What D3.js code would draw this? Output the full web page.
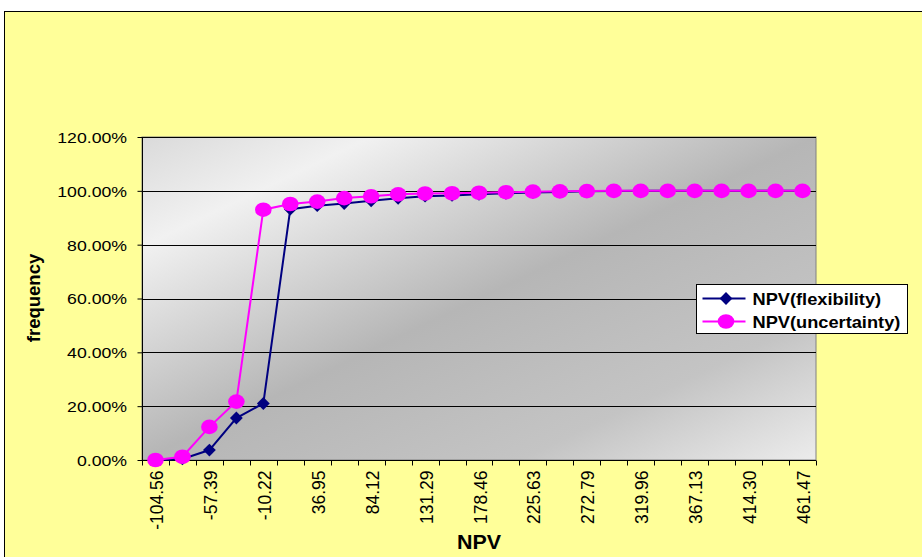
<!DOCTYPE html>
<html>
<head>
<meta charset="utf-8">
<script src="https://cdn.jsdelivr.net/npm/d3@7/dist/d3.min.js"></script>
<style>
  html, body { margin: 0; padding: 0; background: #ffffff; }
  svg { display: block; }
  text { font-family: "Liberation Sans", Arial, sans-serif; fill: #000; }
</style>
</head>
<body>
<svg id="chart" width="922" height="557"></svg>
<script>
// NPV bin upper bounds (category labels)
const categories = ["-104.56", "-80.98", "-57.39", "-33.81", "-10.22", "13.37", "36.95", "60.54",
  "84.12", "107.71", "131.29", "154.88", "178.46", "202.05", "225.63", "249.21", "272.79",
  "296.38", "319.96", "343.55", "367.13", "390.71", "414.30", "437.88", "461.47"];

// Cumulative frequency (%) per bin
const flexibility = [0, 0.4, 3.7, 15.6, 21.0, 93.2, 94.5, 95.3, 96.3, 97.2, 98.0, 98.3, 98.7,
  99.1, 99.4, 99.6, 99.8, 99.9, 100, 100, 100, 100, 100, 100, 100];
const uncertainty = [0, 1.2, 12.3, 21.7, 93.0, 95.1, 96.0, 97.3, 98.0, 98.7, 99.0, 99.1, 99.3,
  99.5, 99.7, 99.8, 99.9, 100, 100, 100, 100, 100, 100, 100, 100];

const yTicks = [0, 20, 40, 60, 80, 100, 120];
const seriesNames = ["NPV(flexibility)", "NPV(uncertainty)"];

const svg = d3.select("#chart");
const WIDE = 1.14; // horizontal widening applied to upright labels

// chart area background and frame
svg.append("rect")
  .attr("x", 4.5).attr("y", 11.5).attr("width", 930).attr("height", 560)
  .attr("fill", "#ffff99").attr("stroke", "#000").attr("stroke-width", 1);

const plot = { left: 142, top: 137, right: 816, bottom: 460 };

const defs = svg.append("defs");
const grad = defs.append("linearGradient")
  .attr("id", "plotGrad")
  .attr("x1", 0).attr("y1", 0).attr("x2", 1).attr("y2", 1);
[[0, "#dadada"], [0.17, "#f1f1f1"], [0.5, "#b6b6b6"], [0.78, "#c4c4c4"], [1, "#ececec"]]
  .forEach(([o, c]) => grad.append("stop").attr("offset", o).attr("stop-color", c));

const x = d3.scaleBand()
  .domain(categories)
  .range([plot.left, plot.right])
  .paddingInner(0).paddingOuter(0);

const y = d3.scaleLinear()
  .domain([0, 120])
  .range([plot.bottom, plot.top]);

// plot area
svg.append("rect")
  .attr("x", plot.left).attr("y", plot.top)
  .attr("width", plot.right - plot.left).attr("height", plot.bottom - plot.top)
  .attr("fill", "url(#plotGrad)")
  .attr("stroke", "#808080").attr("stroke-width", 1);

// horizontal gridlines
svg.append("g")
  .selectAll("line")
  .data(yTicks.filter(d => d > 0))
  .join("line")
  .attr("x1", plot.left).attr("x2", plot.right)
  .attr("y1", d => Math.round(y(d)) + 0.5).attr("y2", d => Math.round(y(d)) + 0.5)
  .attr("stroke", "#000").attr("stroke-width", 1);

// y axis (line + ticks from the axis generator, labels drawn separately)
const yAxis = svg.append("g")
  .attr("transform", `translate(${plot.left + 0.5},0)`)
  .call(d3.axisLeft(y).tickValues(yTicks).tickSize(5).tickFormat(""));
yAxis.select(".domain").attr("stroke", "#000").attr("d", `M0,${plot.top}V${plot.bottom}`);
yAxis.selectAll(".tick line").attr("stroke", "#000");
yAxis.selectAll(".tick")
  .append("text")
  .attr("transform", `translate(${127 - plot.left - 0.5},0) scale(${WIDE},1)`)
  .attr("x", 0).attr("dy", "0.35em")
  .attr("text-anchor", "end")
  .style("font-size", "15.5px")
  .attr("fill", "#000")
  .text(d => d.toFixed(2) + "%");

// x axis: ticks on category boundaries, label every other category
const xAxisG = svg.append("g")
  .attr("transform", `translate(0,${plot.bottom + 0.5})`);
xAxisG.append("line")
  .attr("x1", plot.left).attr("x2", plot.right)
  .attr("stroke", "#000");
const boundaries = categories.map(c => x(c)).concat([x(categories[categories.length - 1]) + x.bandwidth()]);
xAxisG.selectAll("line.tick")
  .data(boundaries)
  .join("line")
  .attr("class", "tick")
  .attr("x1", d => Math.round(d) + 0.5).attr("x2", d => Math.round(d) + 0.5)
  .attr("y1", 0).attr("y2", 5)
  .attr("stroke", "#000");
xAxisG.selectAll("text")
  .data(categories.filter((c, i) => i % 2 === 0))
  .join("text")
  .attr("transform", d => `translate(${x(d) + x.bandwidth() / 2 + 7.5},10) rotate(-90)`)
  .attr("text-anchor", "end")
  .style("font-size", "17.5px")
  .text(d => d);

// axis titles
svg.append("text")
  .attr("transform", `translate(${40},${298}) rotate(-90)`)
  .attr("text-anchor", "middle")
  .style("font-size", "18.5px").style("font-weight", "bold")
  .text("frequency");
svg.append("text")
  .attr("transform", `translate(479,549) scale(1.1,1)`)
  .attr("text-anchor", "middle")
  .style("font-size", "19.5px").style("font-weight", "bold")
  .text("NPV");

// series
const cx = c => x(c) + x.bandwidth() / 2;
const line = d3.line().x(d => cx(d.c)).y(d => y(d.v));
const flexData = categories.map((c, i) => ({ c, v: flexibility[i] }));
const uncData = categories.map((c, i) => ({ c, v: uncertainty[i] }));

// square turned 45 degrees -> diamond marker
const diamond = d3.symbol().type(d3.symbolSquare).size(82);

svg.append("path").datum(flexData)
  .attr("d", line).attr("fill", "none")
  .attr("stroke", "#000080").attr("stroke-width", 2);
svg.append("g").selectAll("path")
  .data(flexData).join("path")
  .attr("transform", d => `translate(${cx(d.c)},${y(d.v)}) rotate(45)`)
  .attr("d", diamond).attr("fill", "#000080");

svg.append("path").datum(uncData)
  .attr("d", line).attr("fill", "none")
  .attr("stroke", "#ff00ff").attr("stroke-width", 2);
svg.append("g").selectAll("ellipse")
  .data(uncData).join("ellipse")
  .attr("cx", d => cx(d.c)).attr("cy", d => y(d.v))
  .attr("rx", 8.3).attr("ry", 7.3).attr("fill", "#ff00ff");

// legend
const lg = svg.append("g").attr("transform", "translate(696.5,284.5)");
lg.append("rect").attr("width", 211).attr("height", 49)
  .attr("fill", "#ffffff").attr("stroke", "#000");
const legendItems = [
  { name: seriesNames[0], color: "#000080", shape: "diamond", yy: 14 },
  { name: seriesNames[1], color: "#ff00ff", shape: "circle", yy: 37 }
];
legendItems.forEach(it => {
  lg.append("line").attr("x1", 6).attr("x2", 49)
    .attr("y1", it.yy).attr("y2", it.yy)
    .attr("stroke", it.color).attr("stroke-width", 2);
  if (it.shape === "diamond") {
    lg.append("path").attr("transform", `translate(29.5,${it.yy}) rotate(45)`)
      .attr("d", diamond).attr("fill", it.color);
  } else {
    lg.append("ellipse").attr("cx", 29.5).attr("cy", it.yy)
      .attr("rx", 8.3).attr("ry", 7.3).attr("fill", it.color);
  }
  lg.append("text")
    .attr("transform", `translate(56,${it.yy + 6}) scale(${WIDE},1)`)
    .style("font-size", "16px").style("font-weight", "bold")
    .text(it.name);
});
</script>
</body>
</html>
